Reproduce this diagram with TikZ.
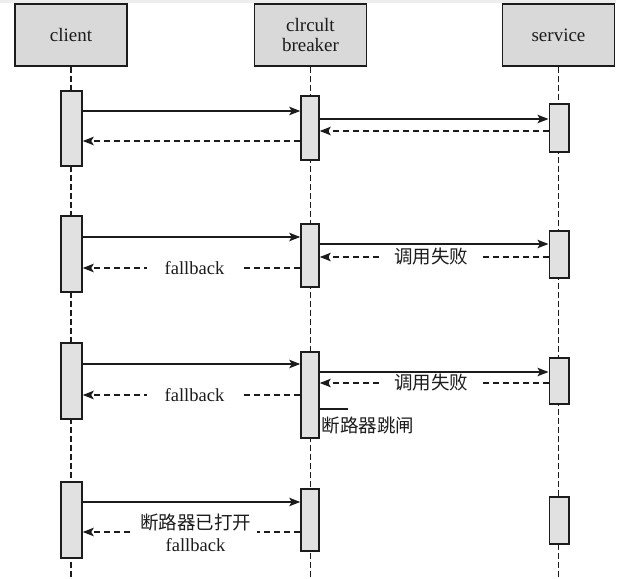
\documentclass[tikz,border=0pt]{standalone}
\usepackage{fontspec}
\setmainfont{Liberation Serif}
\newfontfamily\cjk{Noto Sans CJK SC}
\usetikzlibrary{arrows.meta}
\definecolor{ink}{HTML}{1C1C1C}
\definecolor{headfill}{HTML}{D9D9D9}
\definecolor{actfill}{HTML}{E1E1E1}
\definecolor{band}{HTML}{EDEDED}

% activation bar: name, x centre, top y, bottom y, width
\newcommand\actbar[5]{%
  \node[act, minimum width=#5, minimum height={#4-#3}] (#1) at (#2,{(#3+#4)/2}) {};}

\begin{document}
\begin{tikzpicture}[x=1pt,y=-1pt,
  every node/.style={text=ink},
  head/.style={draw=ink, line width=1.5pt, fill=headfill, minimum width=112pt,
    minimum height=62pt, inner sep=0pt, align=center,
    font=\fontsize{19}{20.5}\selectfont},
  lifeline/.style={draw=ink, line width=1.5pt, dash pattern=on 6pt off 3pt},
  act/.style={draw=ink, line width=1.5pt, fill=actfill, inner sep=0pt},
  call/.style={draw=ink, line width=1.3pt,
    -{Stealth[length=11pt,width=8.5pt,inset=2.5pt]}},
  reply/.style={call, dash pattern=on 6pt off 4pt},
  lbl/.style={fill=white, inner ysep=1pt, font=\fontsize{18.5}{22}\selectfont},
]
\useasboundingbox (0,0) rectangle (641,579);
\fill[band] (0,0) rectangle (616,2.5);

% participants
\node[head] (client)  at (71,35)    {client};
\node[head] (breaker) at (310.5,35) {clrcult\\breaker};
\node[head] (service) at (558.5,35) {service};

% lifelines
\coordinate (bottom) at (0,579);
\draw[lifeline] (client.south)  -- (client.south  |- bottom);
\draw[lifeline] (breaker.south) -- (breaker.south |- bottom);
\draw[lifeline] (service.south) -- (service.south |- bottom);

% activation bars
\actbar{c1}{71.5}{91}{166}{21}
\actbar{c2}{71.5}{216}{292}{21}
\actbar{c3}{71.5}{343}{419}{21}
\actbar{c4}{71.5}{482}{558}{21}
\actbar{b1}{310}{96}{160}{18}
\actbar{b2}{310}{224}{287}{18}
\actbar{b3}{310}{352}{438}{18}
\actbar{b4}{310}{489}{551}{18}
\actbar{s1}{559}{104}{152}{19.5}
\actbar{s2}{559}{231}{278}{19.5}
\actbar{s3}{559}{358}{404}{19.5}
\actbar{s4}{559}{497}{544}{19.5}

% call 1: normal round trip
\draw[call]  (c1.east |- 0,111) -- (b1.west |- 0,111);
\draw[call]  (b1.east |- 0,119) -- (s1.west |- 0,119);
\draw[reply] (s1.west |- 0,131) -- (b1.east |- 0,131);
\draw[reply] (b1.west |- 0,141) -- (c1.east |- 0,141);

% call 2: service fails, fallback returned
\draw[call]  (c2.east |- 0,237) -- (b2.west |- 0,237);
\draw[call]  (b2.east |- 0,244) -- (s2.west |- 0,244);
\draw[reply] (s2.west |- 0,257) -- node[lbl, inner xsep=11pt, xshift=-3pt] {\cjk 调用失败} (b2.east |- 0,257);
\draw[reply] (b2.west |- 0,268) -- node[lbl, inner xsep=18pt, xshift=3pt] {fallback} (c2.east |- 0,268);

% call 3: failure trips the breaker
\draw[call]  (c3.east |- 0,364) -- (b3.west |- 0,364);
\draw[call]  (b3.east |- 0,372) -- (s3.west |- 0,372);
\draw[reply] (s3.west |- 0,383) -- node[lbl, inner xsep=11pt, xshift=-3pt] {\cjk 调用失败} (b3.east |- 0,383);
\draw[reply] (b3.west |- 0,395) -- node[lbl, inner xsep=18pt, xshift=3pt] {fallback} (c3.east |- 0,395);
\draw[draw=ink, line width=1.3pt] (b3.east |- 0,409) -- ++(28,0) coordinate (trip);
\node[anchor=west, inner sep=2pt, font=\fontsize{18.5}{22}\selectfont] (tripnote)
  at (b3.east |- 0,425) {\cjk 断路器跳闸};

% call 4: breaker open, short-circuit to fallback
\draw[call]  (c4.east |- 0,502) -- (b4.west |- 0,502);
\draw[reply] (b4.west |- 0,532) -- node[lbl, align=center, inner xsep=6pt, xshift=4pt, yshift=-1pt]
  {{\cjk 断路器已打开}\\fallback} (c4.east |- 0,532);
\end{tikzpicture}
\end{document}
